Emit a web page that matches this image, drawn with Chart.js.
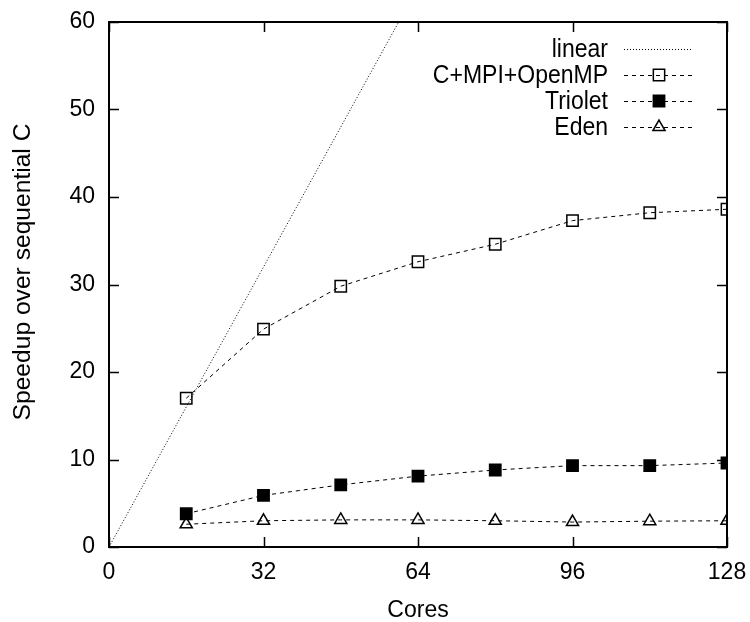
<!DOCTYPE html>
<html>
<head>
<meta charset="utf-8">
<script src="https://cdn.jsdelivr.net/npm/chart.js@4/dist/chart.umd.min.js"></script>
<style>
html,body{margin:0;padding:0;background:#fff;}
#wrap{width:750px;height:622px;}
</style>
</head>
<body>
<div id="wrap"><canvas id="c" width="750" height="622"></canvas></div>
<script>
const cores = [16, 32, 48, 64, 80, 96, 112, 128];
const linearX = [0, 128];
const linearY = [0, 128];
const mpiOpenmp = [17.0, 24.9, 29.8, 32.6, 34.6, 37.3, 38.2, 38.6];
const triolet = [3.8, 5.9, 7.1, 8.1, 8.8, 9.3, 9.3, 9.6];
const eden = [2.6, 3.0, 3.1, 3.1, 3.0, 2.85, 2.95, 3.0];
const xTicks = [0, 32, 64, 96, 128];
const yTicks = [0, 10, 20, 30, 40, 50, 60];
const seriesNames = ['linear', 'C+MPI+OpenMP', 'Triolet', 'Eden'];
const yTitle = 'Speedup over sequential C';

const FONT = 'Liberation Sans, Arial, Helvetica, sans-serif';
const FS = 23;
const pts = (xs, ys) => xs.map((x, i) => ({x: x, y: ys[i]}));

const framePlugin = {
  id: 'frame',
  afterDatasetsDraw(chart) {
    const {ctx, chartArea: a, scales} = chart;
    ctx.save();
    ctx.strokeStyle = '#000';
    ctx.lineWidth = 1.5;
    const tl = 10;
    ctx.beginPath();
    xTicks.forEach(v => {
      const px = Math.round(scales.x.getPixelForValue(v)) + 0.5;
      ctx.moveTo(px, a.bottom); ctx.lineTo(px, a.bottom - tl);
      ctx.moveTo(px, a.top); ctx.lineTo(px, a.top + tl);
    });
    yTicks.forEach(v => {
      const py = Math.round(scales.y.getPixelForValue(v)) + 0.5;
      ctx.moveTo(a.left, py); ctx.lineTo(a.left + tl, py);
      ctx.moveTo(a.right, py); ctx.lineTo(a.right - tl, py);
    });
    ctx.stroke();
    ctx.lineWidth = 2;
    ctx.strokeRect(a.left, a.top, a.right - a.left, a.bottom - a.top);
    // y axis title, drawn as text (slightly stretched along its length like the reference)
    ctx.fillStyle = '#000';
    ctx.font = '23px ' + FONT;
    ctx.textAlign = 'center';
    ctx.textBaseline = 'middle';
    ctx.translate(24, 272);
    ctx.rotate(-Math.PI / 2);
    ctx.scale(1.07, 1);
    ctx.fillText(yTitle, 0, 0);
    ctx.restore();
  }
};

const legendPlugin = {
  id: 'gnuLegend',
  afterDraw(chart) {
    const {ctx} = chart;
    const textRight = 608, lineL = 624, lineR = 692, mx = 659;
    const rows = [49, 75, 101, 127];
    ctx.save();
    chart.data.datasets.forEach((ds, i) => {
      const y = rows[i];
      ctx.save();
      ctx.fillStyle = '#000';
      ctx.font = FS + 'px ' + FONT;
      ctx.textAlign = 'right';
      ctx.textBaseline = 'middle';
      ctx.translate(textRight, y + 1);
      ctx.scale(1, 1.1);
      ctx.fillText(seriesNames[i], 0, 0);
      ctx.restore();
      ctx.strokeStyle = ds.borderColor;
      ctx.lineWidth = ds.borderWidth;
      ctx.setLineDash(ds.borderDash || []);
      ctx.beginPath();
      ctx.moveTo(lineL, y + 0.5); ctx.lineTo(lineR, y + 0.5);
      ctx.stroke();
      ctx.setLineDash([]);
      if (ds.pointRadius > 0) {
        ctx.fillStyle = ds.pointBackgroundColor;
        ctx.strokeStyle = ds.pointBorderColor;
        ctx.lineWidth = ds.pointBorderWidth;
        ctx.beginPath();
        if (ds.pointStyle === 'rect') {
          const s = ds.pointRadius * Math.SQRT1_2;
          ctx.rect(mx - s, y - s, 2 * s, 2 * s);
        } else {
          const r = ds.pointRadius;
          ctx.moveTo(mx, y - r);
          ctx.lineTo(mx + r * Math.cos(Math.PI / 6), y + r / 2);
          ctx.lineTo(mx - r * Math.cos(Math.PI / 6), y + r / 2);
          ctx.closePath();
        }
        ctx.fill();
        ctx.stroke();
      }
    });
    ctx.restore();
  }
};

new Chart(document.getElementById('c'), {
  type: 'scatter',
  data: {
    datasets: [
      {
        label: seriesNames[0],
        data: pts(linearX, linearY),
        showLine: true,
        borderColor: '#000',
        borderWidth: 1,
        borderDash: [1, 2],
        pointRadius: 0,
        fill: false
      },
      {
        label: seriesNames[1],
        data: pts(cores, mpiOpenmp),
        showLine: true,
        borderColor: '#000',
        borderWidth: 1,
        borderDash: [4, 4],
        pointStyle: 'rect',
        pointRadius: 8,
        pointBorderWidth: 1.5,
        pointBorderColor: '#000',
        pointBackgroundColor: 'rgba(0,0,0,0)',
        fill: false
      },
      {
        label: seriesNames[2],
        data: pts(cores, triolet),
        showLine: true,
        borderColor: '#000',
        borderWidth: 1,
        borderDash: [4, 4],
        pointStyle: 'rect',
        pointRadius: 8,
        pointBorderWidth: 1.5,
        pointBorderColor: '#000',
        pointBackgroundColor: '#000',
        fill: false
      },
      {
        label: seriesNames[3],
        data: pts(cores, eden),
        showLine: true,
        borderColor: '#000',
        borderWidth: 1,
        borderDash: [4, 4],
        pointStyle: 'triangle',
        pointRadius: 7,
        pointBorderWidth: 1.5,
        pointBorderColor: '#000',
        pointBackgroundColor: 'rgba(0,0,0,0)',
        fill: false
      }
    ]
  },
  options: {
    responsive: false,
    animation: false,
    devicePixelRatio: 1,
    layout: {padding: {left: 0, right: 23, top: 22, bottom: 0}},
    plugins: {legend: {display: false}, tooltip: {enabled: false}},
    elements: {line: {tension: 0}},
    scales: {
      x: {
        type: 'linear',
        min: 0, max: 128,
        afterFit(s) { s.height = 75; s.paddingLeft = 0; s.paddingRight = 0; },
        afterBuildTicks(s) { s.ticks = xTicks.map(v => ({value: v})); },
        grid: {display: false, drawTicks: false},
        border: {display: false},
        ticks: {color: '#000', font: {family: FONT, size: FS}, padding: 12, maxRotation: 0, autoSkip: false},
        title: {display: true, text: 'Cores', color: '#000', font: {family: FONT, size: FS, lineHeight: 1}, padding: {top: 0, bottom: 0}}
      },
      y: {
        type: 'linear',
        min: 0, max: 60,
        afterFit(s) { s.width = 109; s.paddingTop = 0; s.paddingBottom = 0; },
        afterBuildTicks(s) { s.ticks = yTicks.map(v => ({value: v})); },
        grid: {display: false, drawTicks: false},
        border: {display: false},
        ticks: {color: '#000', font: {family: FONT, size: FS}, padding: 14, autoSkip: false},
        title: {display: false}
      }
    }
  },
  plugins: [framePlugin, legendPlugin]
});
</script>
</body>
</html>
